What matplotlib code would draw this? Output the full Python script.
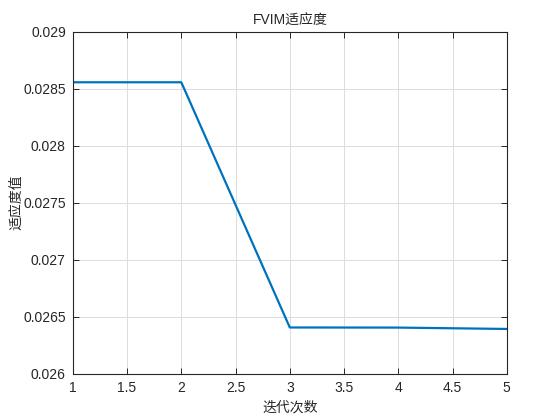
import matplotlib
matplotlib.use("Agg")
from matplotlib import pyplot as plt

plt.rcParams['font.family'] = ['Liberation Sans', 'Noto Sans CJK SC', 'DejaVu Sans']

# fitness per iteration
iters = [1, 2, 3, 4, 5]
fitness = [0.028555, 0.028555, 0.026406, 0.026405, 0.026393]

xticks = [1, 1.5, 2, 2.5, 3, 3.5, 4, 4.5, 5]
xtick_labels = ['1', '1.5', '2', '2.5', '3', '3.5', '4', '4.5', '5']
yticks = [0.026, 0.0265, 0.027, 0.0275, 0.028, 0.0285, 0.029]
ytick_labels = ['0.026', '0.0265', '0.027', '0.0275', '0.028', '0.0285', '0.029']

fig = plt.figure(figsize=(5.6, 4.2), dpi=100)
ax = fig.add_axes([0.13, 0.11, 0.775, 0.815])

ax.plot(iters, fitness, color='#0072BD', linewidth=1.6)

ax.set_xlim(1, 5)
ax.set_ylim(0.026, 0.029)
ax.set_xticks(xticks)
ax.set_xticklabels(xtick_labels)
ax.set_yticks(yticks)
ax.set_yticklabels(ytick_labels)
ax.grid(color='#dcdcdc', linewidth=0.7)
ax.set_axisbelow(True)
ax.tick_params(direction='in', top=True, right=True, labelsize=10, length=4,
               width=0.7, color='#262626', labelcolor='#262626', pad=5)
for s in ax.spines.values():
    s.set_color('#262626')
    s.set_linewidth(0.8)

ax.set_title('FVIM适应度', fontsize=10, color='#262626', pad=5)
ax.set_xlabel('迭代次数', fontsize=10, color='#262626', labelpad=4)
ax.set_ylabel('适应度值', fontsize=10, color='#262626', labelpad=0)

fig.savefig('out.png', dpi=100)
